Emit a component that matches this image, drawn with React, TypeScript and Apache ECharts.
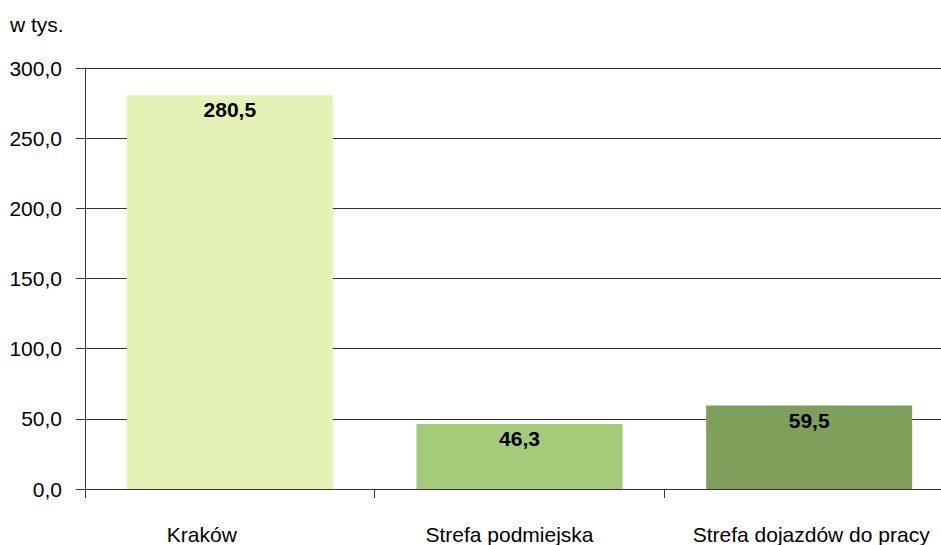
import React, { useEffect, useRef } from "react";
import * as echarts from "echarts";

const categories = ["Kraków", "Strefa podmiejska", "Strefa dojazdów do pracy"];
const values = [280.5, 46.3, 59.5];
const barColors = ["#E3F2B5", "#A4CB7A", "#7FA05A"];
const labelShifts = [-28, -10, 2];
const unitLabel = "w tys.";

const fmt = (v: number) => v.toFixed(1).replace(".", ",");

export default function App() {
  const ref = useRef<HTMLDivElement>(null);
  useEffect(() => {
    if (!ref.current) return;
    const chart = echarts.init(ref.current, null, { renderer: "svg" });
    const font = "'Liberation Sans', Arial, sans-serif";
    chart.setOption({
      animation: false,
      backgroundColor: "#ffffff",
      title: {
        text: unitLabel,
        left: 5,
        top: 9,
        textStyle: { fontFamily: font, fontSize: 21, fontWeight: "normal", color: "#000" },
      },
      grid: { left: 85, top: 68, right: 6, bottom: 55 },
      xAxis: {
        type: "category",
        data: categories.map((c, i) => ({
          value: c,
          textStyle: {
            padding: labelShifts[i] < 0 ? [0, -2 * labelShifts[i], 0, 0] : [0, 0, 0, 2 * labelShifts[i]],
          },
        })),
        axisLine: { lineStyle: { color: "#333", width: 1 } },
        axisTick: { show: true, length: 9, lineStyle: { color: "#333" } },
        axisLabel: {
          fontFamily: font,
          fontSize: 21,
          color: "#000",
          margin: 35,
          interval: 0,
          hideOverlap: false,
        },
      },
      yAxis: {
        type: "value",
        min: 0,
        max: 300,
        interval: 50,
        axisLine: { show: true, lineStyle: { color: "#333", width: 1 } },
        axisTick: { show: true, length: 9, lineStyle: { color: "#333" } },
        splitLine: { show: true, lineStyle: { color: "#333", width: 1 } },
        axisLabel: {
          fontFamily: font,
          fontSize: 21,
          color: "#000",
          margin: 23,
          formatter: (v: number) => fmt(v),
        },
      },
      series: [
        {
          type: "bar",
          barWidth: 206,
          data: values.map((v, i) => ({ value: v, itemStyle: { color: barColors[i] } })),
          label: {
            show: true,
            position: "insideTop",
            distance: 4,
            fontFamily: font,
            fontSize: 21,
            fontWeight: "bold",
            color: "#000",
            formatter: (p: any) => fmt(p.value),
          },
        },
      ],
    });
    return () => chart.dispose();
  }, []);
  return (
    <div
      style={{
        position: "fixed",
        left: 0,
        top: 0,
        width: 941,
        height: 545,
        overflow: "hidden",
        background: "#fff",
      }}
    >
      <div ref={ref} style={{ width: 960, height: 545 }} />
    </div>
  );
}
